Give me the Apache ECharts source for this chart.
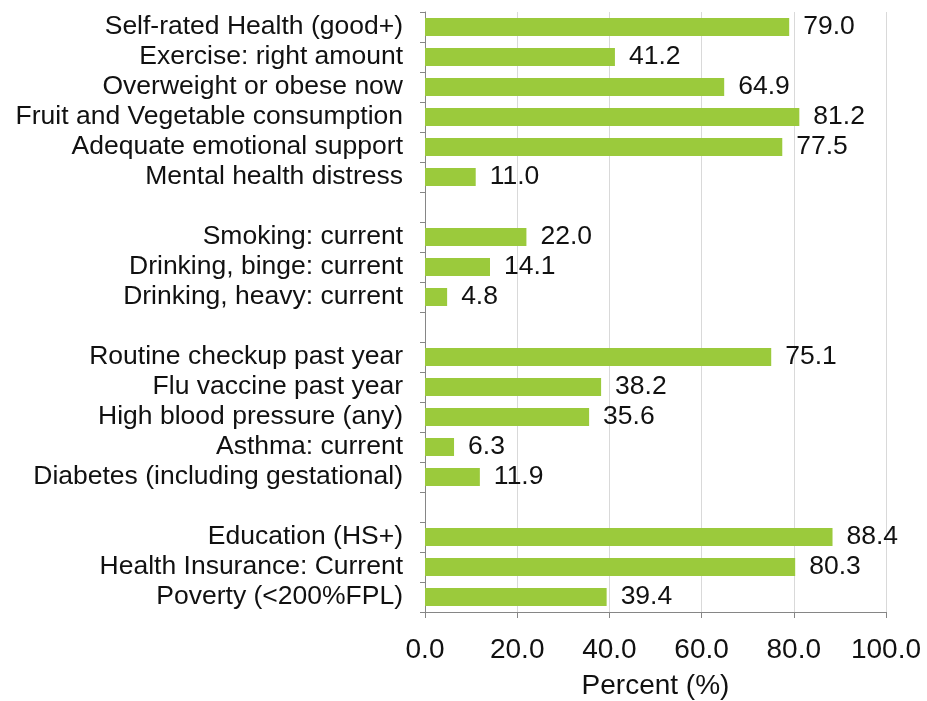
<!DOCTYPE html>
<html>
<head>
<meta charset="utf-8">
<script src="https://cdn.jsdelivr.net/npm/echarts@6/dist/echarts.min.js"></script>
<style>
  html, body { margin: 0; padding: 0; background: #fff; }
  #chart { width: 927px; height: 701px; }
</style>
</head>
<body>
<div id="chart"></div>
<script>
// empty strings are the gaps between the groups
const categories = [
  'Self-rated Health (good+)',
  'Exercise: right amount',
  'Overweight or obese now',
  'Fruit and Vegetable consumption',
  'Adequate emotional support',
  'Mental health distress',
  '',
  'Smoking: current',
  'Drinking, binge: current',
  'Drinking, heavy: current',
  '',
  'Routine checkup past year',
  'Flu vaccine past year',
  'High blood pressure (any)',
  'Asthma: current',
  'Diabetes (including gestational)',
  '',
  'Education (HS+)',
  'Health Insurance: Current',
  'Poverty (<200%FPL)'
];
const values = [
  79.0, 41.2, 64.9, 81.2, 77.5, 11.0,
  null,
  22.0, 14.1, 4.8,
  null,
  75.1, 38.2, 35.6, 6.3, 11.9,
  null,
  88.4, 80.3, 39.4
];
const xTicks = [0, 20, 40, 60, 80, 100];

const chart = echarts.init(document.getElementById('chart'));

chart.setOption({
  animation: false,
  backgroundColor: '#fff',
  grid: {
    top: 12,
    left: 425,
    right: 41,
    bottom: 89,
    outerBoundsMode: 'none'
  },
  xAxis: {
    type: 'value',
    min: xTicks[0],
    max: xTicks[xTicks.length - 1],
    interval: 20,
    name: 'Percent (%)',
    nameLocation: 'middle',
    nameGap: 60,
    nameTextStyle: {
      fontFamily: 'Liberation Sans',
      fontSize: 28,
      color: '#111'
    },
    axisLine: { show: true, lineStyle: { color: '#868686', width: 1 } },
    axisTick: { show: true, length: 6, lineStyle: { color: '#868686' } },
    axisLabel: {
      fontFamily: 'Liberation Sans',
      fontSize: 28,
      color: '#111',
      margin: 24,
      formatter: v => v.toFixed(1)
    },
    splitLine: { show: true, lineStyle: { color: '#d9d9d9', width: 1 } }
  },
  yAxis: {
    type: 'category',
    data: categories,
    inverse: true,
    axisLine: { show: true, lineStyle: { color: '#868686', width: 1 } },
    axisTick: { show: true, length: 5, lineStyle: { color: '#868686' } },
    axisLabel: {
      fontFamily: 'Liberation Sans',
      fontSize: 26.5,
      color: '#111',
      margin: 22,
      interval: 0
    },
    splitLine: { show: false }
  },
  series: [
    {
      type: 'bar',
      data: values,
      barWidth: 18,
      itemStyle: { color: '#9bca3c' },
      label: {
        show: true,
        position: 'right',
        distance: 14,
        fontFamily: 'Liberation Sans',
        fontSize: 26.5,
        color: '#111',
        formatter: p => p.value.toFixed(1)
      }
    }
  ]
});
</script>
</body>
</html>
